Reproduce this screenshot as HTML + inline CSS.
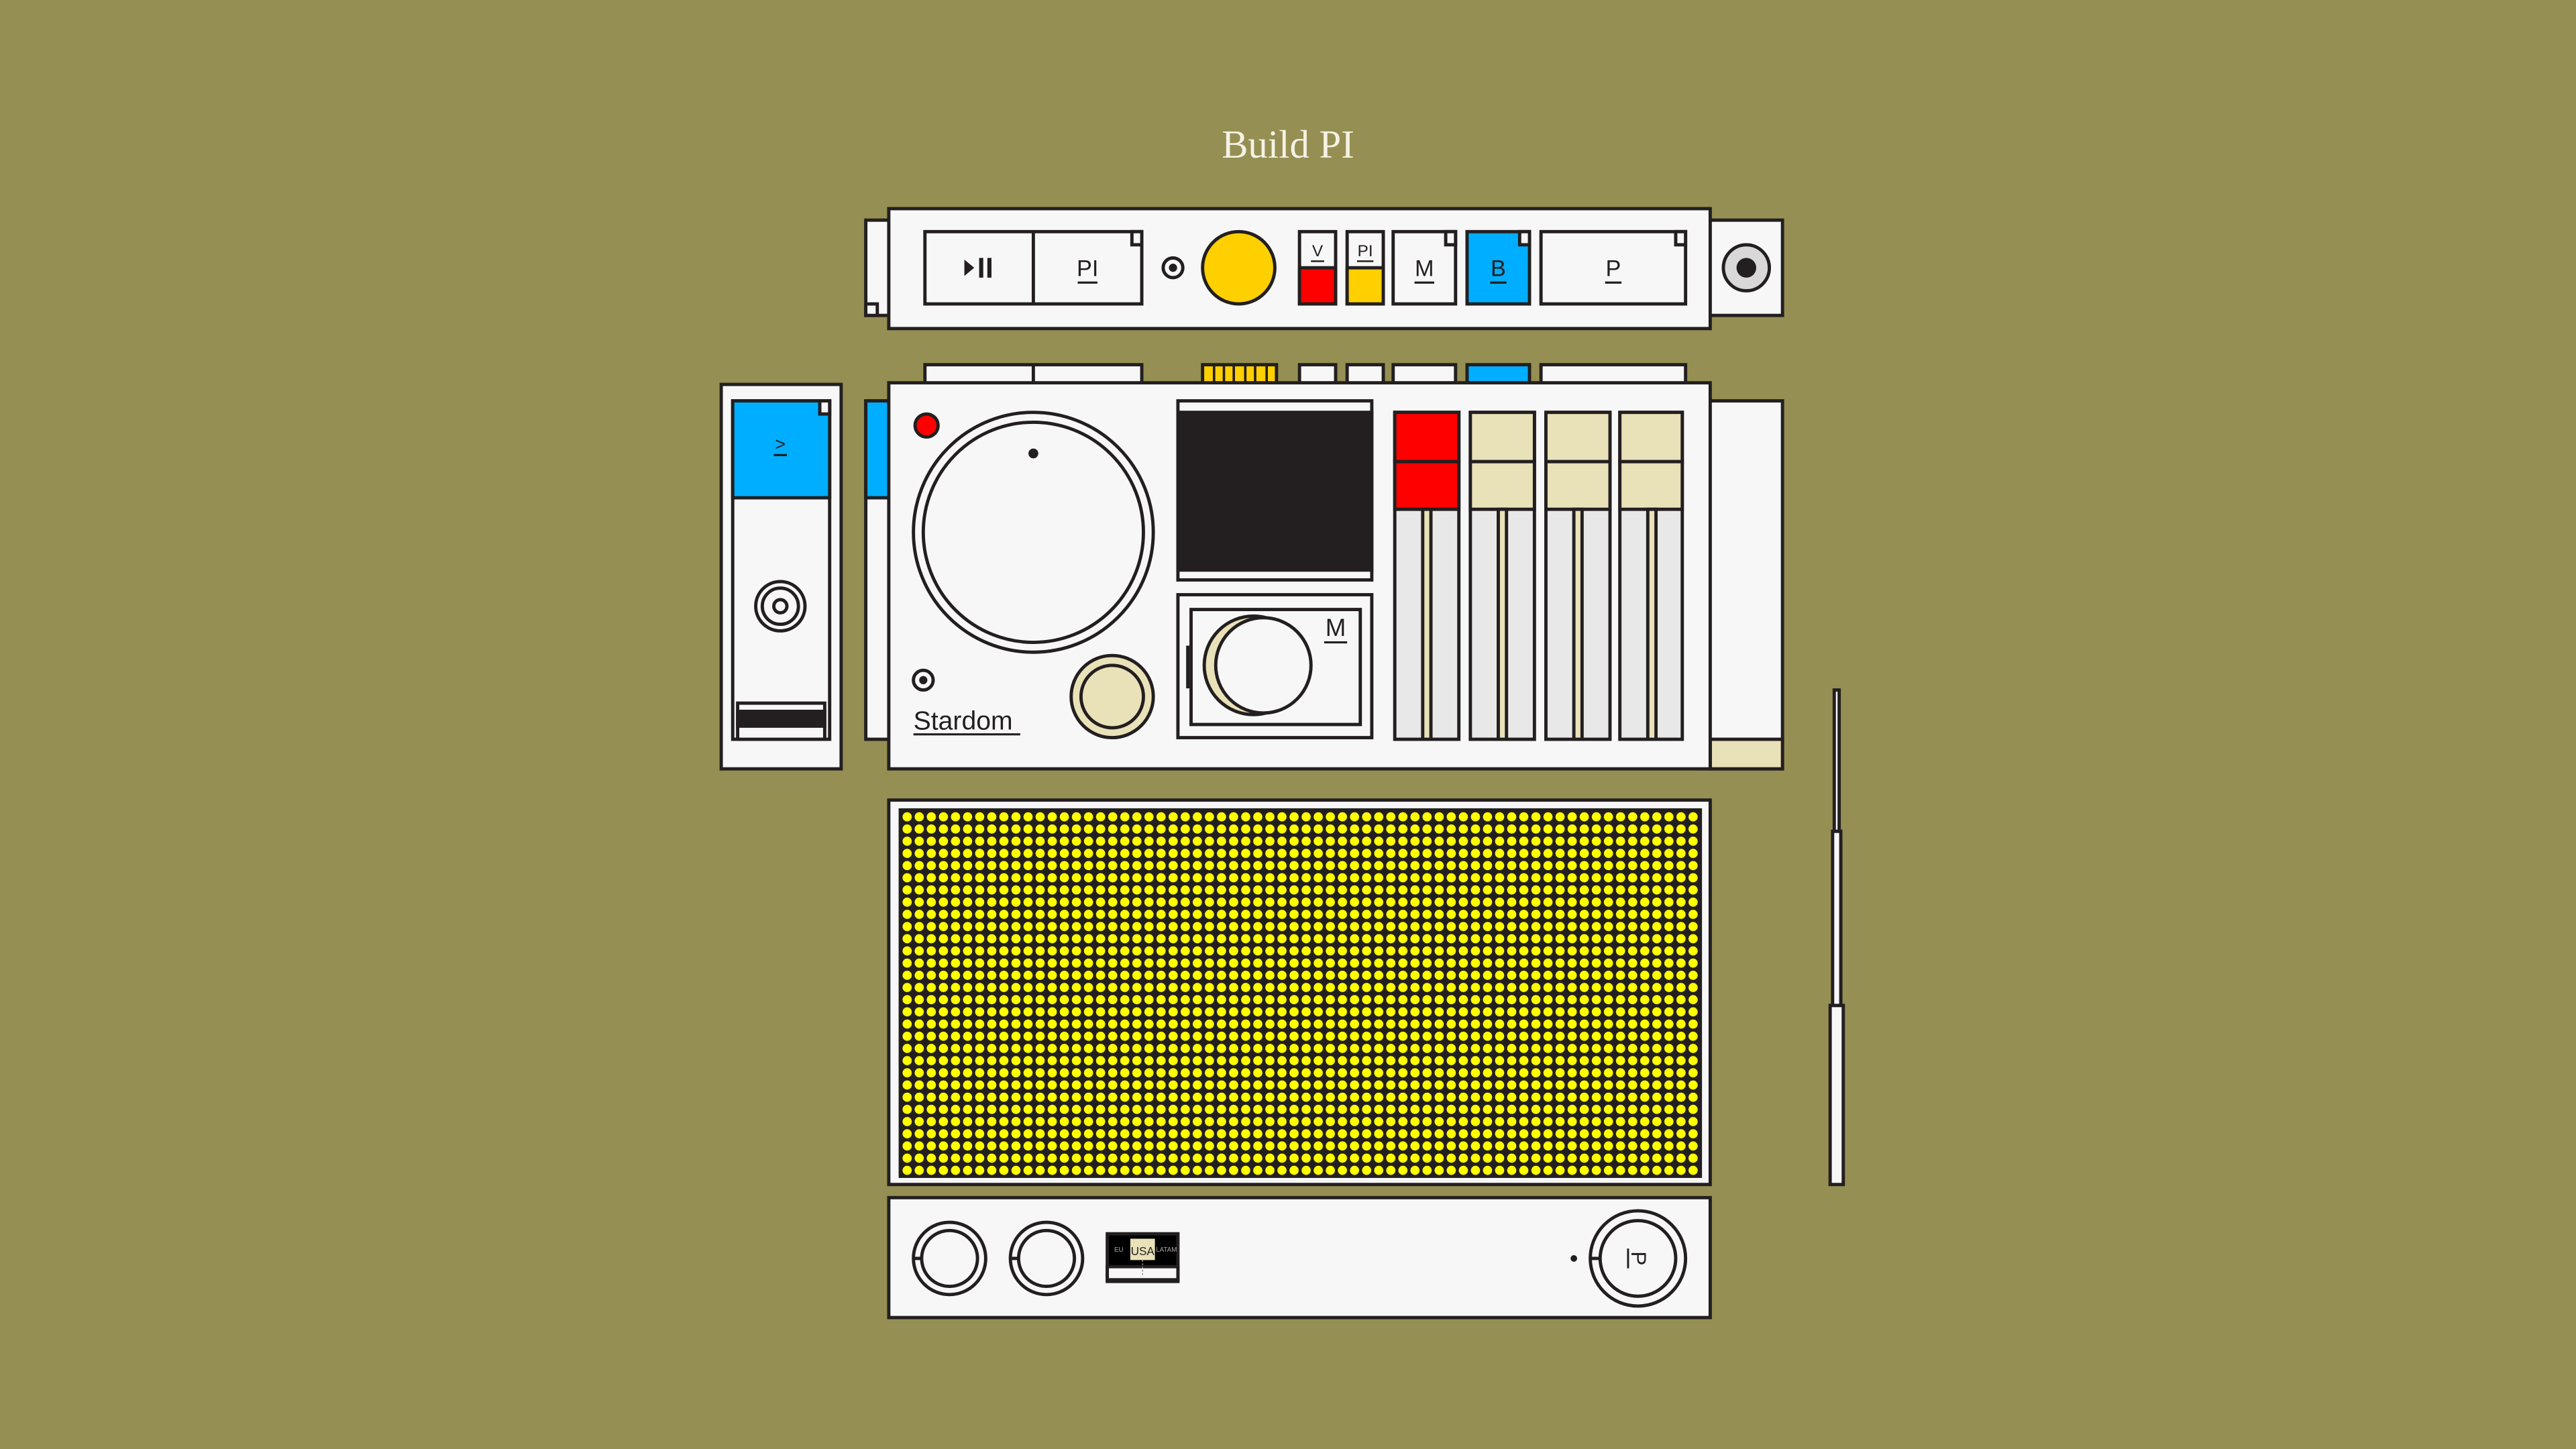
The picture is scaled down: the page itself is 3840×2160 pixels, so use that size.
<!DOCTYPE html>
<html><head><meta charset="utf-8"><style>
html,body{margin:0;padding:0;background:#958f53;}
svg{display:block;}
text{font-family:"Liberation Sans",sans-serif;fill:#231f20;}
</style></head><body>
<svg width="3840" height="2160" viewBox="0 0 1568 882" xmlns="http://www.w3.org/2000/svg">
<defs>
<pattern id="dots" x="548.5" y="493.5" width="7.36" height="7.42" patternUnits="userSpaceOnUse">
<circle cx="3.68" cy="3.71" r="2.8" fill="#ffff00"/>
</pattern>
</defs>
<rect width="1568" height="882" fill="#958f53"/>
<text x="784" y="96" text-anchor="middle" font-size="24" style="fill:#f5f2e4;font-family:'Liberation Serif',serif">Build PI</text>
<g stroke="#231f20" stroke-width="2" fill="#f7f7f7">
<rect x="527" y="134" width="20" height="58"/>
<rect x="527" y="185" width="7" height="7"/>
<rect x="1035" y="134" width="50" height="58"/>
<circle cx="1063" cy="163" r="14" fill="#d8d8d8"/>
<rect x="541" y="127" width="500" height="73"/>
<rect x="563" y="141" width="132" height="44"/>
<line x1="629" y1="141" x2="629" y2="185"/>
<rect x="689" y="141" width="6" height="8"/>
<circle cx="714" cy="163" r="6"/>
<circle cx="754" cy="163" r="22" fill="#ffd000"/>
<rect x="791" y="141" width="22" height="44"/>
<rect x="791" y="163" width="22" height="22" fill="#ff0000"/>
<rect x="820" y="141" width="22" height="44"/>
<rect x="820" y="163" width="22" height="22" fill="#ffd000"/>
<rect x="848" y="141" width="38" height="44"/>
<rect x="880" y="141" width="6" height="8"/>
<rect x="893" y="141" width="38" height="44" fill="#00aeff"/>
<rect x="925" y="141" width="6" height="8"/>
<rect x="938" y="141" width="88" height="44"/>
<rect x="1020" y="141" width="6" height="8"/>
<rect x="563" y="222" width="132" height="14"/>
<line x1="629" y1="222" x2="629" y2="236"/>
<rect x="732" y="222" width="45" height="14" fill="#ffd000"/>
<g stroke-width="1.5"><line x1="739" y1="222" x2="739" y2="236"/><line x1="745" y1="222" x2="745" y2="236"/><line x1="751" y1="222" x2="751" y2="236"/><line x1="758" y1="222" x2="758" y2="236"/><line x1="764" y1="222" x2="764" y2="236"/><line x1="771" y1="222" x2="771" y2="236"/></g>
<rect x="791" y="222" width="22" height="14"/>
<rect x="820" y="222" width="22" height="14"/>
<rect x="848" y="222" width="38" height="14"/>
<rect x="893" y="222" width="38" height="14" fill="#00aeff"/>
<rect x="938" y="222" width="88" height="14"/>
<rect x="439" y="234" width="73" height="234"/>
<rect x="446" y="244" width="59" height="206"/>
<rect x="446" y="244" width="59" height="59" fill="#00aeff"/>
<rect x="499" y="244" width="6" height="8"/>
<circle cx="475" cy="369" r="15"/>
<circle cx="475" cy="369" r="11"/>
<circle cx="475" cy="369" r="4"/>
<rect x="449" y="428" width="53" height="22"/>
<rect x="449" y="433" width="53" height="9" fill="#231f20"/>
<rect x="527" y="244" width="20" height="206"/>
<rect x="527" y="244" width="20" height="59" fill="#00aeff"/>
<rect x="1035" y="244" width="50" height="224"/>
<rect x="1041" y="450" width="44" height="18" fill="#e9e1b8"/>
<rect x="541" y="233" width="500" height="235"/>
<circle cx="564" cy="259" r="7" fill="#ff0000"/>
<circle cx="629" cy="324" r="73"/>
<circle cx="629" cy="324" r="67"/>
<circle cx="562" cy="414" r="6"/>
<circle cx="677" cy="424" r="25" fill="#e9e1b8"/>
<circle cx="677" cy="424" r="19" fill="#e9e1b8"/>
<rect x="717" y="244" width="118" height="109"/>
<rect x="718" y="251" width="117" height="96" fill="#231f20"/>
<rect x="717" y="362" width="118" height="87"/>
<rect x="725" y="371" width="103" height="70"/>
<circle cx="763" cy="405" r="30" fill="#e9e1b8"/>
<circle cx="769" cy="405" r="29"/>
<g>
<rect x="849" y="251" width="39" height="199" fill="#e8e8e8"/>
<rect x="849" y="251" width="39" height="30" fill="#ff0000"/>
<rect x="849" y="281" width="39" height="29" fill="#ff0000"/>
<rect x="866" y="310" width="5" height="140" fill="#e9e1b8"/>
<rect x="895" y="251" width="39" height="199" fill="#e8e8e8"/>
<rect x="895" y="251" width="39" height="30" fill="#e9e1b8"/>
<rect x="895" y="281" width="39" height="29" fill="#e9e1b8"/>
<rect x="912" y="310" width="5" height="140" fill="#e9e1b8"/>
<rect x="941" y="251" width="39" height="199" fill="#e8e8e8"/>
<rect x="941" y="251" width="39" height="30" fill="#e9e1b8"/>
<rect x="941" y="281" width="39" height="29" fill="#e9e1b8"/>
<rect x="958" y="310" width="5" height="140" fill="#e9e1b8"/>
<rect x="986" y="251" width="38" height="199" fill="#e8e8e8"/>
<rect x="986" y="251" width="38" height="30" fill="#e9e1b8"/>
<rect x="986" y="281" width="38" height="29" fill="#e9e1b8"/>
<rect x="1003" y="310" width="5" height="140" fill="#e9e1b8"/>
</g>
<rect x="541" y="487" width="500" height="234"/>
<rect x="548" y="493" width="487" height="223" fill="#231f20"/>
<rect x="1114" y="612" width="8" height="109"/>
<rect x="1115.5" y="506" width="5" height="106"/>
<rect x="1116.5" y="420" width="3" height="86"/>
<rect x="541" y="729" width="500" height="73"/>
<circle cx="578" cy="766" r="22"/>
<circle cx="578" cy="766" r="17"/>
<line x1="556" y1="766" x2="561" y2="766"/>
<circle cx="637" cy="766" r="22"/>
<circle cx="637" cy="766" r="17"/>
<line x1="615" y1="766" x2="620" y2="766"/>
<rect x="674" y="751" width="43" height="29" fill="#000"/>
<rect x="674" y="771" width="43" height="8"/>
<circle cx="997" cy="766" r="29"/>
<circle cx="997" cy="766" r="23"/>
<line x1="968" y1="766" x2="974" y2="766"/>
</g>
<rect x="688" y="754" width="15" height="13" fill="#e9e1b8"/>
<line x1="695.5" y1="767" x2="695.5" y2="776" stroke="#888" stroke-width="0.6" stroke-dasharray="1 1"/>
<text x="695.5" y="764" font-size="7" text-anchor="middle">USA</text>
<text x="681" y="762" font-size="4" text-anchor="middle" style="fill:#aaa">EU</text>
<text x="710" y="762" font-size="4" text-anchor="middle" style="fill:#aaa">LATAM</text>
<circle cx="958" cy="766" r="2" fill="#231f20"/>
<text x="0" y="0" font-size="13" text-anchor="middle" transform="translate(993,766) rotate(90)">P</text>
<line x1="991" y1="760" x2="991" y2="772" stroke="#231f20" stroke-width="1.2"/>
<circle cx="1063" cy="163" r="6" fill="#231f20"/>
<circle cx="714" cy="163" r="2.5" fill="#231f20"/>
<circle cx="562" cy="414" r="2.5" fill="#231f20"/>
<circle cx="629" cy="276" r="3" fill="#231f20"/>
<rect x="722" y="393" width="2" height="26" fill="#231f20"/>
<rect x="548" y="493" width="487" height="223" fill="url(#dots)"/>
<g stroke="#231f20" stroke-width="1.5">
<line x1="849" y1="310" x2="888" y2="310"/><line x1="895" y1="310" x2="934" y2="310"/><line x1="941" y1="310" x2="980" y2="310"/><line x1="986" y1="310" x2="1024" y2="310"/>
</g>
<polygon points="587,158 587,168 593,163" fill="#231f20"/>
<rect x="596" y="157" width="2.5" height="12" fill="#231f20"/>
<rect x="601" y="157" width="2.5" height="12" fill="#231f20"/>
<g font-size="14" text-anchor="middle">
<text x="662" y="168">PI</text>
<line x1="656" y1="172" x2="668" y2="172" stroke="#231f20" stroke-width="1.3"/>
<text x="802" y="156" font-size="10">V</text>
<line x1="798" y1="159" x2="806" y2="159" stroke="#231f20" stroke-width="1"/>
<text x="831" y="156" font-size="10">PI</text>
<line x1="826" y1="159" x2="836" y2="159" stroke="#231f20" stroke-width="1"/>
<text x="867" y="168">M</text>
<line x1="861" y1="172" x2="873" y2="172" stroke="#231f20" stroke-width="1.3"/>
<text x="912" y="168">B</text>
<line x1="907" y1="172" x2="917" y2="172" stroke="#231f20" stroke-width="1.3"/>
<text x="982" y="168">P</text>
<line x1="977" y1="172" x2="987" y2="172" stroke="#231f20" stroke-width="1.3"/>
<text x="813" y="387" font-size="15">M</text>
<line x1="806" y1="391" x2="820" y2="391" stroke="#231f20" stroke-width="1.3"/>
<text x="475" y="274" font-size="11">&gt;</text>
</g>
<line x1="471" y1="277" x2="479" y2="277" stroke="#231f20" stroke-width="1.3"/>
<text x="556" y="444" font-size="16">Stardom</text>
<line x1="556" y1="447" x2="621" y2="447" stroke="#231f20" stroke-width="1.3"/>
</svg>
</body></html>
